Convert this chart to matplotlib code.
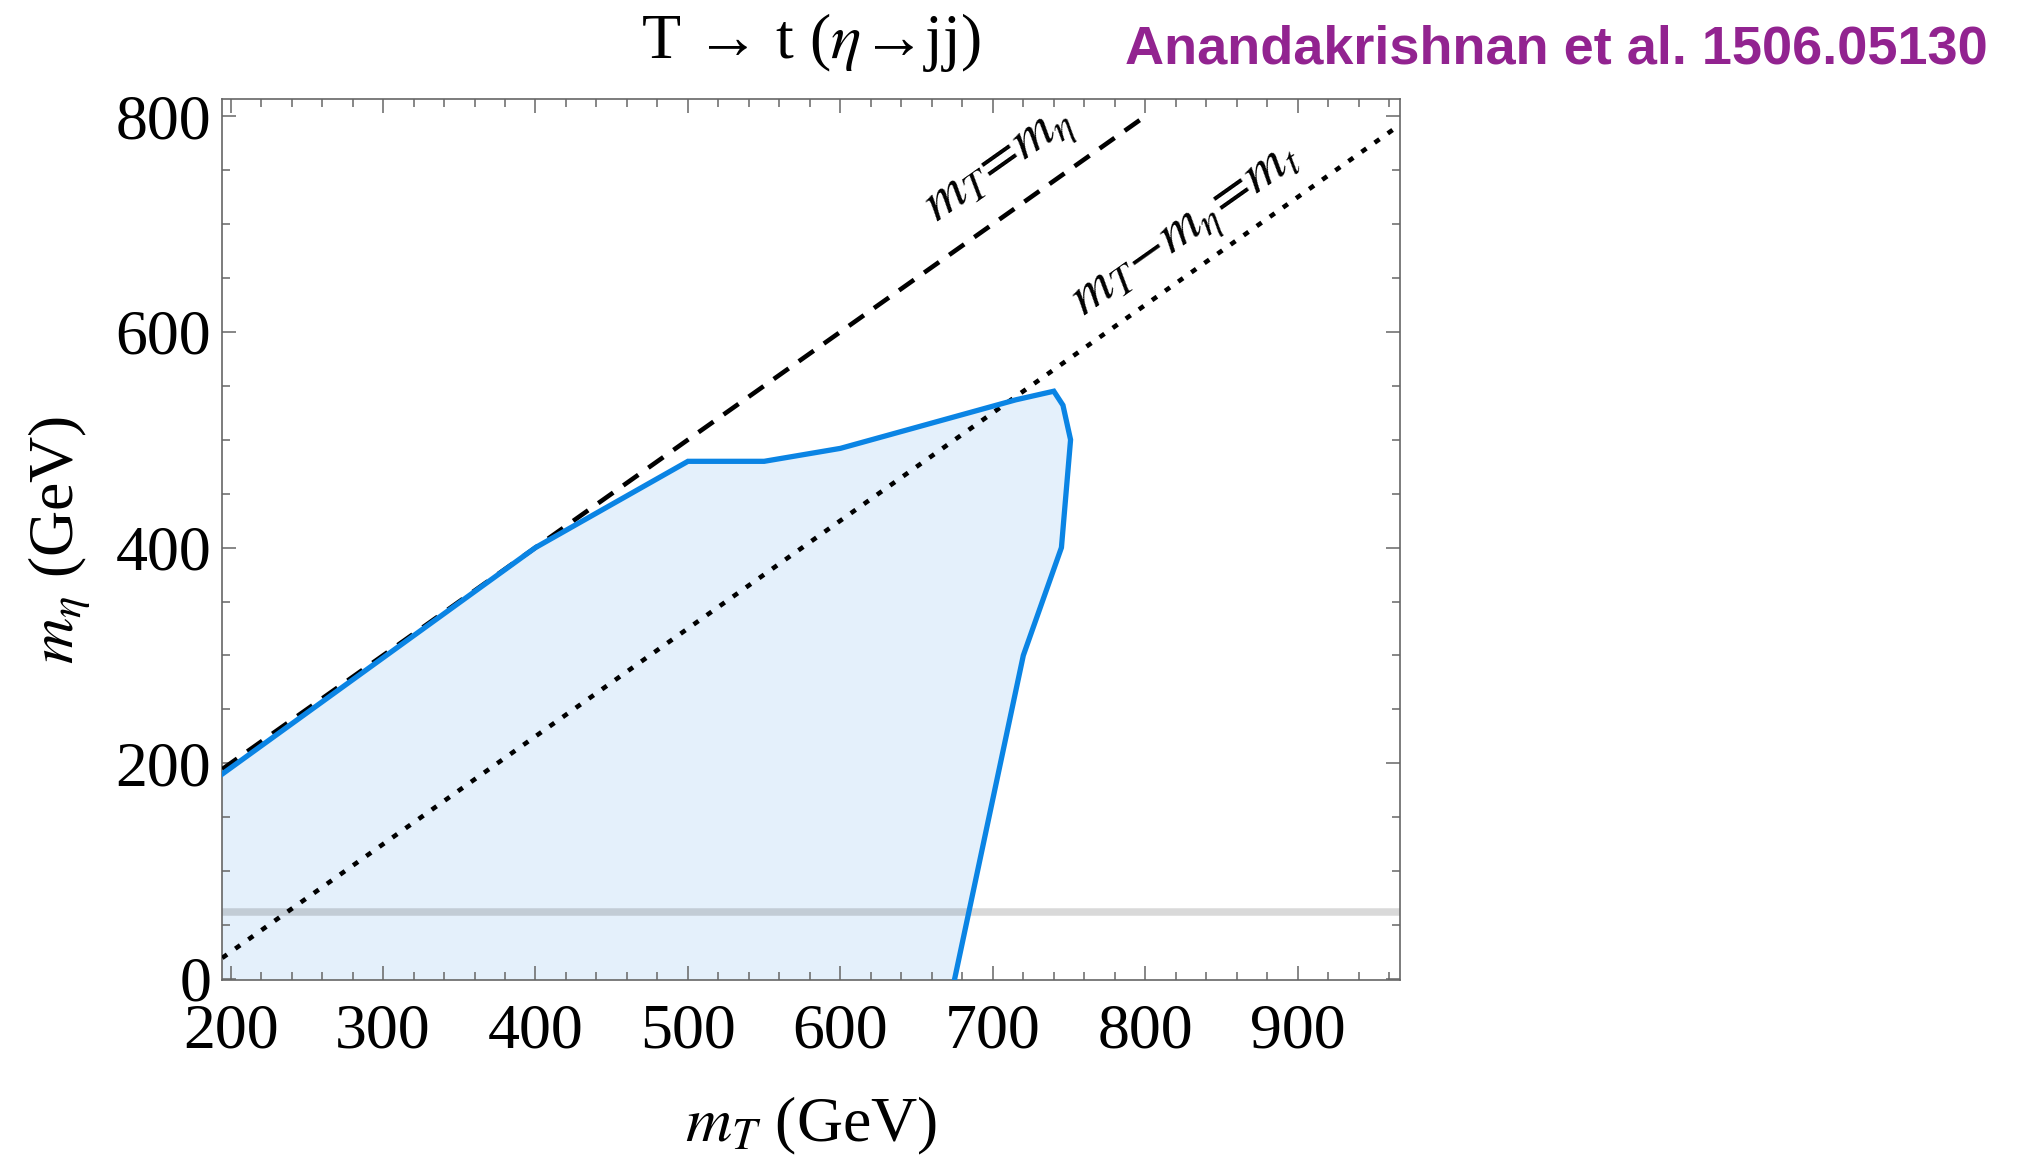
import numpy as np
import matplotlib.pyplot as plt
from matplotlib.ticker import MultipleLocator

plt.rcParams['font.family'] = ['Liberation Serif', 'DejaVu Serif']
plt.rcParams['mathtext.fontset'] = 'stix'

# excluded region boundary (m_T, m_eta) in GeV
bound_mT = [194.5, 400, 500, 550, 600, 715, 740, 746, 751, 745, 720, 674.5]
bound_meta = [190, 400, 480, 480, 492, 537, 545, 532, 500, 400, 300, -3]

m_top = 175        # m_T - m_eta = m_t line
m_half_h = 62.5    # grey band
diag_end = 800     # m_T = m_eta line drawn up to here

xlim = (194.5, 967)
ylim = (-1, 816)

fig = plt.figure(figsize=(20.2, 11.56), dpi=100)
ax = fig.add_axes([0.110, 0.1522, 0.583, 0.7622])

# fill + boundary
fx = bound_mT + [xlim[0]]
fy = bound_meta + [bound_meta[-1]]
ax.fill(fx, fy, color='#e4f0fb', lw=0, zorder=1)
ax.plot(bound_mT, bound_meta, color='#0a84e4', lw=3.8, zorder=4, solid_joinstyle='miter')

ax.axhline(m_half_h, color='black', alpha=0.15, lw=5.4, zorder=2)

# kinematic lines
xd = np.array([xlim[0], diag_end])
ax.plot(xd, xd, color='black', lw=3.3, dashes=(4.0, 2.7), zorder=3)
xt = np.array([xlim[0], xlim[1]])
ax.plot(xt, xt - m_top, color='black', lw=3.3, dashes=(1.3, 2.2), zorder=3)

ax.text(705, 753, r'$m_T\!=\!m_\eta$', fontsize=41, rotation=45,
        transform_rotates_text=True, rotation_mode='anchor',
        ha='center', va='center', zorder=5)
ax.text(828, 692, r'$m_T\!-\!m_\eta\!=\!m_t$', fontsize=41, rotation=45,
        transform_rotates_text=True, rotation_mode='anchor',
        ha='center', va='center', zorder=5)

ax.set_xlim(*xlim)
ax.set_ylim(*ylim)
ax.set_xticks(np.arange(200, 901, 100))
ax.set_yticks(np.arange(0, 801, 200))
ax.xaxis.set_minor_locator(MultipleLocator(20))
ax.yaxis.set_minor_locator(MultipleLocator(50))
ax.tick_params(which='both', direction='in', top=True, right=True,
               color='#666666', width=1.1, labelsize=46)
ax.tick_params(which='major', length=10)
ax.tick_params(which='minor', length=6)
ax.tick_params(axis='x', pad=17)
ax.tick_params(axis='y', pad=8)
for s in ax.spines.values():
    s.set_color('#666666')
    s.set_linewidth(1.2)

ax.set_xlabel(r'$m_T$ (GeV)', fontsize=46, labelpad=24)
ax.set_ylabel(r'$m_\eta$ (GeV)', fontsize=46, labelpad=16)

fig.text(0.4015, 0.9498, 'T → t (' + r'$\eta$' + '→jj)', fontsize=46,
         ha='center', va='baseline')
fig.text(0.984, 0.9455, 'Anandakrishnan et al. 1506.05130', fontsize=39,
         fontweight='bold', color='#922390', ha='right', va='baseline',
         family=['Liberation Sans Narrow', 'Liberation Sans'])

fig.savefig('out.png', dpi=100)
